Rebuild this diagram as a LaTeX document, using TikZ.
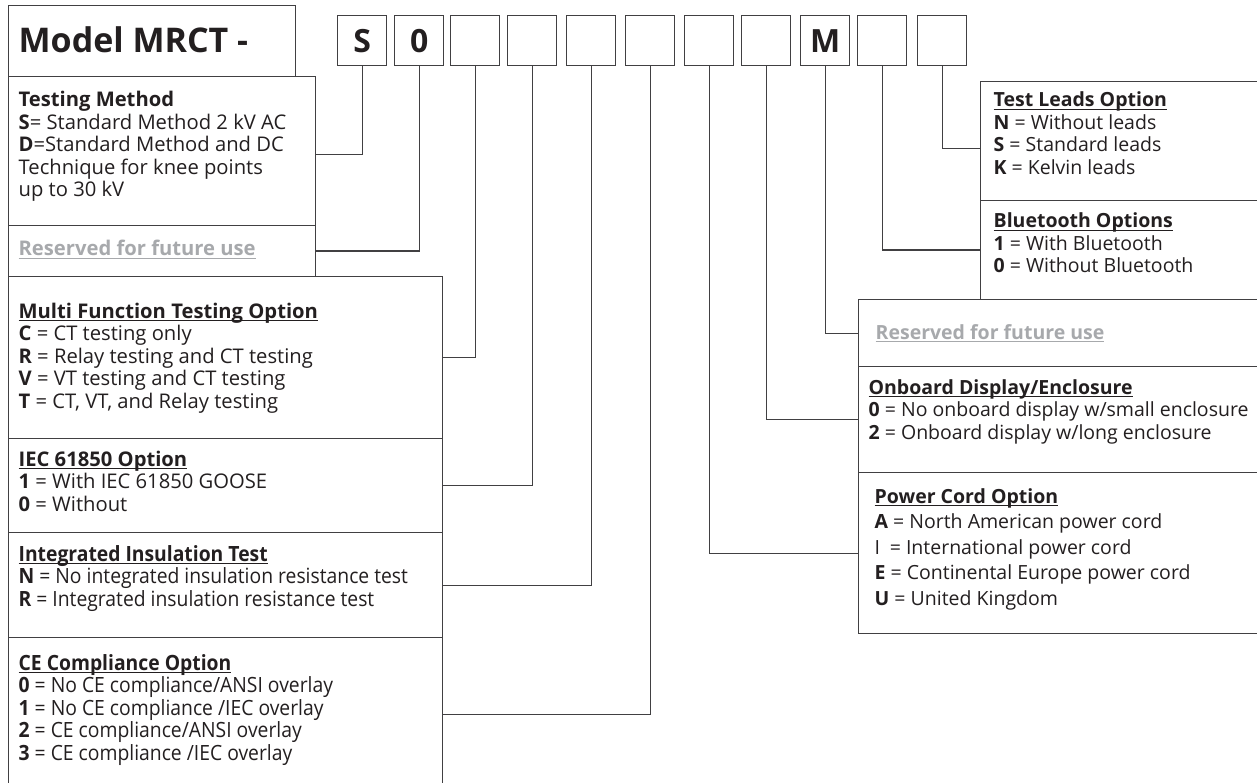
\documentclass[tikz,border=0pt]{standalone}
\usepackage{fontspec}
\setmainfont{Open Sans}
\newfontfamily\condfont[FakeStretch=0.92]{Open Sans}
\usetikzlibrary{calc}
\definecolor{txt}{HTML}{231F20}
\definecolor{ln}{HTML}{414042}
\definecolor{gry}{HTML}{A7A9AC}
\newcommand{\myul}[1]{\setbox0\hbox{#1}\rlap{\rule[-3pt]{\wd0}{1.2pt}}\box0}
\begin{document}
\begin{tikzpicture}[x=1pt,y=-1pt,
  line width=1.3pt,
  codebox/.style={draw=ln, minimum width=49pt, minimum height=50pt, inner sep=0pt, anchor=north west,
    font=\bfseries\fontsize{32}{32}\selectfont, text=txt},
  descbox/.style={draw=ln, inner sep=0pt, anchor=north west},
  desc/.style={anchor=base west, inner sep=0pt, align=left, text=txt, font=\fontsize{19.5}{22.5}\selectfont},
  ldesc/.style={desc, font=\fontsize{20.2}{22.5}\selectfont},
  conddesc/.style={desc, font=\condfont\fontsize{21}{22.5}\selectfont},
  conn/.style={draw=ln}
]
\useasboundingbox (0,0) rectangle (1257,783);
\fill[white] (0,0) rectangle (1257,783);

% left boxes
\node[descbox, minimum width=287pt, minimum height=71pt] (model) at (8,5) {};
\node[descbox, minimum width=307pt, minimum height=149pt] (tm) at (8,76) {};
\node[descbox, minimum width=307pt, minimum height=51pt] (res1) at (8,225) {};
\node[descbox, minimum width=434pt, minimum height=162pt] (mf) at (8,276) {};
\node[descbox, minimum width=434pt, minimum height=94pt] (iec) at (8,438) {};
\node[descbox, minimum width=434pt, minimum height=105pt] (ins) at (8,532) {};
\node[descbox, minimum width=434pt, minimum height=160pt] (ce) at (8,637) {};
% right boxes
\node[descbox, minimum width=290pt, minimum height=119pt] (tl) at (980,81) {};
\node[descbox, minimum width=290pt, minimum height=99pt] (bt) at (980,200) {};
\node[descbox, minimum width=410pt, minimum height=67pt] (res2) at (858,299) {};
\node[descbox, minimum width=410pt, minimum height=106pt] (ob) at (858,366) {};
\node[descbox, minimum width=410pt, minimum height=161pt] (pc) at (858,472) {};

% code boxes
\node[codebox] (c1) at (337,15) {S};
\node[codebox] (c2) at (394,15) {0};
\node[codebox] (c3) at (450,15) {};
\node[codebox] (c4) at (507,15) {};
\node[codebox] (c5) at (566,15) {};
\node[codebox] (c6) at (625,15) {};
\node[codebox] (c7) at (684,15) {};
\node[codebox] (c8) at (741,15) {};
\node[codebox] (c9) at (800,15) {M};
\node[codebox] (c10) at (857,15) {};
\node[codebox] (c11) at (917,15) {};

% connectors
\draw[conn] (c1.south) |- ($(tm.east)+(0,3.5)$);
\draw[conn] (c2.south) |- (res1.east);
\draw[conn] (c3.south) |- (mf.east);
\draw[conn] (c4.south) |- (iec.east);
\draw[conn] (c5.south) |- (ins.east);
\draw[conn] (c6.south) |- ($(ce.east)+(0,-3)$);
\draw[conn] (c7.south) |- (pc.west);
\draw[conn] (c8.south) |- (ob.west);
\draw[conn] (c9.south) |- (res2.west);
\draw[conn] (c10.south) |- (bt.west);
\draw[conn] (c11.south) |- ($(tl.west)+(0,7.5)$);

% texts (base anchor = baseline of the last line)
\node[anchor=base west, inner sep=0pt, text=txt, font=\bfseries\fontsize{34}{34}\selectfont] (title) at (18,53) {Model MRCT -};
\node[ldesc] (tmt) at (18,197) {\textbf{Testing Method}\\
  \textbf{S}= Standard Method 2 kV AC\\
  \textbf{D}=Standard Method and DC\\
  Technique for knee points\\
  up to 30 kV};
\node[ldesc, text=gry] (r1t) at (18,256) {\myul{\textbf{Reserved for future use}}};
\node[ldesc] (mft) at (18,408) {\myul{\textbf{Multi Function Testing Option}}\\
  \textbf{C} = CT testing only\\
  \textbf{R} = Relay testing and CT testing\\
  \textbf{V} = VT testing and CT testing\\
  \textbf{T} = CT, VT, and Relay testing};
\node[ldesc] (iect) at (18,511) {\myul{\textbf{IEC 61850 Option}}\\
  \textbf{1} = With IEC 61850 GOOSE\\
  \textbf{0} = Without};
\node[conddesc] (inst) at (18,606) {\myul{\textbf{Integrated Insulation Test}}\\
  \textbf{N} = No integrated insulation resistance test\\
  \textbf{R} = Integrated insulation resistance test};
\node[conddesc] (cet) at (18,760) {\myul{\textbf{CE Compliance Option}}\\
  \textbf{0} = No CE compliance/ANSI overlay\\
  \textbf{1} = No CE compliance /IEC overlay\\
  \textbf{2} = CE compliance/ANSI overlay\\
  \textbf{3} = CE compliance /IEC overlay};
\node[desc] (tlt) at (993,174.5) {\myul{\textbf{Test Leads Option}}\\
  \textbf{N} = Without leads\\
  \textbf{S} = Standard leads\\
  \textbf{K} = Kelvin leads};
\node[desc] (btt) at (993,273) {\myul{\textbf{Bluetooth Options}}\\
  \textbf{1} = With Bluetooth\\
  \textbf{0} = Without Bluetooth};
\node[desc, text=gry] (r2t) at (875,339) {\myul{\textbf{Reserved for future use}}};
\node[desc] (obt) at (868,439) {\myul{\textbf{Onboard Display/Enclosure}}\\
  \textbf{0} = No onboard display w/small enclosure\\
  \textbf{2} = Onboard display w/long enclosure};
\node[desc, font=\fontsize{19.5}{25.5}\selectfont] (pct) at (874,605) {\myul{\textbf{Power Cord Option}}\\
  \textbf{A} = North American power cord\\
  I\enspace= International power cord\\
  \textbf{E} = Continental Europe power cord\\
  \textbf{U} = United Kingdom};
\end{tikzpicture}
\end{document}
